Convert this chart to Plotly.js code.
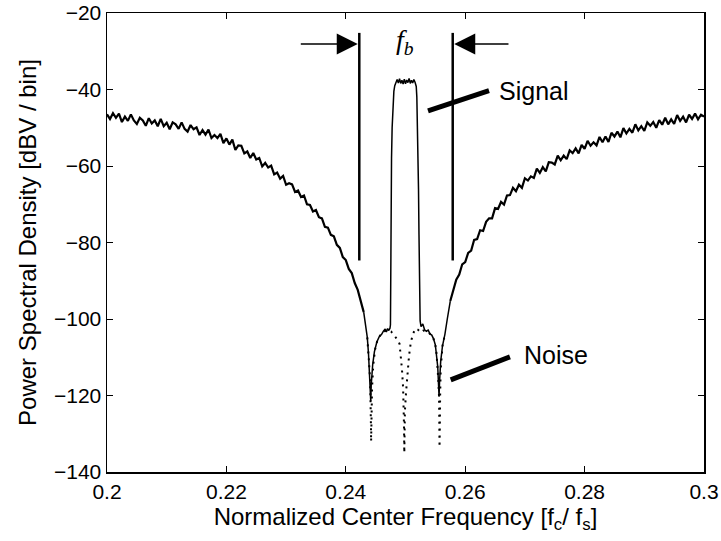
<!DOCTYPE html>
<html>
<head>
<meta charset="utf-8">
<script src="https://cdn.plot.ly/plotly-3.0.1.min.js"></script>
<style>html,body{margin:0;padding:0;background:#fff;}#chart{width:721px;height:541px;}</style>
</head>
<body>
<div id="chart"></div>
<script>
// Solid curve (signal + noise PSD, dBV / bin), split into three pieces
const leftFreq = [
0.2000,0.2005,0.2010,0.2015,0.2020,0.2025,0.2030,0.2035,0.2040,0.2045,
0.2050,0.2055,0.2060,0.2065,0.2070,0.2075,0.2080,0.2085,0.2090,0.2095,
0.2100,0.2105,0.2110,0.2115,0.2120,0.2125,0.2130,0.2135,0.2140,0.2145,
0.2150,0.2155,0.2160,0.2165,0.2170,0.2175,0.2180,0.2185,0.2190,0.2195,
0.2200,0.2205,0.2210,0.2215,0.2220,0.2225,0.2230,0.2235,0.2240,0.2245,
0.2250,0.2255,0.2260,0.2265,0.2270,0.2275,0.2280,0.2285,0.2290,0.2295,
0.2300,0.2305,0.2310,0.2315,0.2320,0.2325,0.2330,0.2335,0.2340,0.2345,
0.2350,0.2355,0.2360,0.2365,0.2370,0.2375,0.2380,0.2385,0.2390,0.2395,
0.2400,0.2405,0.2410,0.2415,0.2420,0.2425,0.2430
];
const leftPsd = [
-46.5,-47.7,-46.2,-47.4,-46.3,-48.5,-47.1,-48.2,-46.5,-48.1,
-49.0,-47.4,-48.1,-49.5,-47.5,-48.9,-48.1,-49.6,-47.7,-49.6,
-48.7,-50.4,-48.6,-49.1,-50.3,-48.6,-50.3,-51.0,-49.3,-50.4,
-49.9,-51.9,-50.6,-51.8,-50.5,-52.7,-51.9,-52.7,-51.6,-54.0,
-52.8,-54.4,-53.1,-55.8,-54.6,-54.7,-56.7,-56.2,-57.9,-56.6,
-58.3,-57.9,-60.1,-59.2,-60.4,-59.9,-62.2,-61.7,-63.3,-62.6,
-64.9,-64.5,-64.8,-66.8,-66.4,-68.1,-67.7,-70.0,-70.2,-71.9,
-71.5,-73.4,-73.7,-75.9,-76.1,-78.0,-78.4,-80.6,-81.4,-83.8,
-84.6,-86.9,-88.0,-90.6,-92.4,-95.2,-98.2
];
const centerFreq = [
0.2430,0.2433,0.2436,0.2438,0.2440,0.2441,0.24418,
0.24425,0.2445,0.2448,0.2452,0.2456,0.2460,0.2463,0.2466,0.2468,0.2470,
0.2472,0.2474,0.24748,0.24752,0.24756,0.24766,0.24776,0.24790,0.24805,0.2482,
0.2484,0.2486,0.2488,0.2490,0.2492,0.2494,0.2496,0.2498,0.2500,0.2502,
0.2504,0.2506,0.2508,0.2510,0.2512,0.2514,0.2516,0.2518,0.2519,0.2520,
0.2521,0.25218,0.25226,0.25235,0.25245,0.2526,0.2529,0.2532,0.2535,0.2538,
0.2541,0.2544,0.2547,0.2550,0.2552,0.2554,0.2555,0.25562,0.2557,0.2559,
0.2562,0.2566,0.2570,0.2575
];
const centerPsd = [
-98.2,-101.0,-104.8,-109.0,-114.0,-118.0,-121.5,
-117.5,-112.0,-108.5,-106.0,-104.6,-104.0,-103.2,-102.6,-103.4,-102.5,
-103.0,-102.4,-101.5,-85.0,-70.0,-58.0,-50.0,-43.0,-40.5,-39.0,
-38.1,-37.4,-38.3,-37.2,-38.4,-37.6,-38.6,-37.3,-38.5,-37.5,
-38.2,-37.1,-38.4,-37.6,-38.3,-37.4,-38.1,-39.2,-42.0,-48.0,
-57.0,-66.0,-78.0,-92.0,-100.5,-102.0,-101.3,-102.8,-103.2,-102.9,
-103.9,-104.2,-105.2,-106.8,-109.0,-112.5,-116.0,-120.3,-116.5,-111.0,
-107.0,-104.0,-100.0,-95.3
];
const rightFreq = [
0.2575,0.2580,0.2585,0.2590,0.2595,0.2600,0.2605,0.2610,0.2615,0.2620,
0.2625,0.2630,0.2635,0.2640,0.2645,0.2650,0.2655,0.2660,0.2665,0.2670,
0.2675,0.2680,0.2685,0.2690,0.2695,0.2700,0.2705,0.2710,0.2715,0.2720,
0.2725,0.2730,0.2735,0.2740,0.2745,0.2750,0.2755,0.2760,0.2765,0.2770,
0.2775,0.2780,0.2785,0.2790,0.2795,0.2800,0.2805,0.2810,0.2815,0.2820,
0.2825,0.2830,0.2835,0.2840,0.2845,0.2850,0.2855,0.2860,0.2865,0.2870,
0.2875,0.2880,0.2885,0.2890,0.2895,0.2900,0.2905,0.2910,0.2915,0.2920,
0.2925,0.2930,0.2935,0.2940,0.2945,0.2950,0.2955,0.2960,0.2965,0.2970,
0.2975,0.2980,0.2985,0.2990,0.2995,0.3000
];
const rightPsd = [
-95.3,-92.7,-89.7,-88.4,-85.7,-85.1,-82.7,-82.1,-79.3,-79.1,
-76.8,-77.0,-74.6,-73.7,-73.7,-71.0,-71.2,-69.4,-70.1,-67.7,
-67.6,-65.7,-66.6,-64.9,-65.7,-63.2,-63.8,-62.7,-63.1,-60.7,
-61.8,-60.3,-61.4,-59.0,-59.1,-59.6,-57.3,-58.5,-57.3,-58.2,
-55.9,-56.6,-55.4,-56.7,-54.5,-55.5,-53.4,-54.7,-53.8,-54.6,
-52.4,-53.8,-52.3,-53.7,-51.3,-52.3,-51.0,-52.5,-50.1,-51.5,
-50.3,-51.3,-49.1,-50.7,-49.6,-50.8,-48.6,-49.5,-48.5,-50.0,
-48.0,-49.2,-47.4,-49.1,-47.8,-49.0,-46.7,-48.2,-47.1,-48.6,
-46.6,-47.7,-46.3,-47.8,-46.6,-47.1
];

// Dotted curve: noise-only PSD around the band centre
const noiseFreq = [
0.2436,0.2438,0.2440,0.2441,0.24418,0.24420,0.24422,0.24424,0.24428,0.2444,
0.2446,0.2449,0.2453,0.2458,0.2464,0.2470,0.2476,0.2482,0.2487,0.2490,
0.2492,0.2494,0.2496,0.2497,0.24975,0.2498,0.24985,0.2499,0.2501,0.2503,
0.2506,0.2509,0.2513,0.2517,0.2521,0.2525,0.2530,0.2536,0.2542,0.2547,
0.2550,0.2552,0.2554,0.2555,0.25562,0.25565,0.25568,0.25570,0.25575,0.2558,
0.2559,0.2562,0.2566
];
const noiseOnly = [
-104.8,-109.0,-114.0,-118.0,-121.5,-125.0,-128.5,-132.0,-126.0,-118.0,
-112.0,-108.0,-105.5,-104.2,-103.2,-103.0,-103.3,-104.5,-105.5,-106.5,
-109.0,-113.0,-118.0,-123.0,-128.0,-135.0,-128.0,-124.0,-119.0,-114.0,
-109.5,-106.0,-103.7,-102.5,-102.8,-103.5,-103.0,-103.2,-104.0,-105.2,
-106.8,-109.0,-112.5,-116.0,-120.3,-124.0,-128.0,-133.5,-128.0,-120.0,
-113.0,-107.0,-104.0
];

const xTicks = [0.2, 0.22, 0.24, 0.26, 0.28, 0.3];
const xTickText = ['0.2', '0.22', '0.24', '0.26', '0.28', '0.3'];
const yTicks = [-140, -120, -100, -80, -60, -40, -20];
const yTickText = ['\u2212140', '\u2212120', '\u2212100', '\u221280', '\u221260', '\u221240', '\u221220'];

const traces = [
  {x: noiseFreq, y: noiseOnly, type: 'scatter', mode: 'lines',
   line: {color: '#000', width: 2, dash: '2px,5px'}, hoverinfo: 'skip'},
  {x: centerFreq, y: centerPsd, type: 'scatter', mode: 'lines',
   line: {color: '#000', width: 1.5}, hoverinfo: 'skip'},
  {x: leftFreq, y: leftPsd, type: 'scatter', mode: 'lines',
   line: {color: '#000', width: 2.2}, hoverinfo: 'skip'},
  {x: rightFreq, y: rightPsd, type: 'scatter', mode: 'lines',
   line: {color: '#000', width: 2.2}, hoverinfo: 'skip'}
];

const tickFont = {family: 'Liberation Sans, Arial, sans-serif', size: 21, color: '#000'};
const titleFont = {family: 'Liberation Sans, Arial, sans-serif', size: 24, color: '#000'};

const layout = {
  width: 721, height: 541,
  margin: {l: 107, r: 17, t: 13, b: 69},
  paper_bgcolor: '#fff', plot_bgcolor: '#fff',
  showlegend: false,
  font: tickFont,
  xaxis: {
    range: [0.2, 0.3], tickvals: xTicks, ticktext: xTickText,
    ticks: 'inside', ticklen: 6, tickwidth: 1, tickcolor: '#000',
    showline: true, linecolor: '#000', linewidth: 1.5, mirror: 'ticks',
    showgrid: false, zeroline: false, tickfont: tickFont,
    title: {text: 'Normalized Center Frequency [f<sub>c</sub>/ f<sub>s</sub>]', font: titleFont, standoff: 2}
  },
  yaxis: {
    range: [-140, -20], tickvals: yTicks, ticktext: yTickText,
    ticks: 'inside', ticklen: 6, tickwidth: 1, tickcolor: '#000',
    showline: true, linecolor: '#000', linewidth: 1.5, mirror: 'ticks',
    showgrid: false, zeroline: false, tickfont: tickFont,
    title: {text: 'Power Spectral Density [dBV / bin]', font: titleFont, standoff: 10}
  },
  shapes: [
    {type: 'line', xref: 'x', yref: 'y', x0: 0.24226, x1: 0.24226, y0: -25.2, y1: -84.7, line: {color: '#000', width: 2.5}},
    {type: 'line', xref: 'x', yref: 'y', x0: 0.25791, x1: 0.25791, y0: -25.2, y1: -84.7, line: {color: '#000', width: 2.5}},
    {type: 'line', xref: 'x', yref: 'y', x0: 0.25377, x1: 0.26399, y0: -45.6, y1: -40.3, line: {color: '#000', width: 5}},
    {type: 'line', xref: 'x', yref: 'y', x0: 0.25757, x1: 0.26750, y0: -115.9, y1: -109.9, line: {color: '#000', width: 5}}
  ],
  annotations: [
    {x: 0.24200, y: -28.1, ax: 0.23221, ay: -28.1, xref: 'x', yref: 'y', axref: 'x', ayref: 'y',
     showarrow: true, arrowhead: 2, arrowsize: 2.8, arrowwidth: 1.5, arrowcolor: '#000', text: ''},
    {x: 0.25816, y: -28.1, ax: 0.2675, ay: -28.1, xref: 'x', yref: 'y', axref: 'x', ayref: 'y',
     showarrow: true, arrowhead: 2, arrowsize: 2.8, arrowwidth: 1.5, arrowcolor: '#000', text: ''},
    {x: 0.24995, y: -27.4, xref: 'x', yref: 'y', showarrow: false,
     text: '<i>f</i><sub><i>b</i></sub>', font: {family: 'Liberation Serif, Times New Roman, serif', size: 28, color: '#000'}},
    {x: 0.26533, y: -40.5, xref: 'x', yref: 'y', showarrow: false, xanchor: 'left',
     text: 'Signal', font: {family: 'Liberation Sans, Arial, sans-serif', size: 25, color: '#000'}},
    {x: 0.26950, y: -109.5, xref: 'x', yref: 'y', showarrow: false, xanchor: 'left',
     text: 'Noise', font: {family: 'Liberation Sans, Arial, sans-serif', size: 25, color: '#000'}}
  ]
};

Plotly.newPlot('chart', traces, layout, {staticPlot: true, displayModeBar: false});
</script>
</body>
</html>
